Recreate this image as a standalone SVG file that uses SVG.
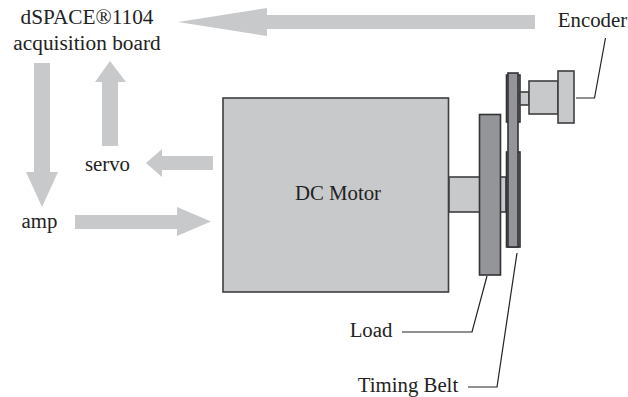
<svg xmlns="http://www.w3.org/2000/svg" width="628" height="397" viewBox="0 0 628 397">
<style>
text{font-family:"Liberation Serif","Times New Roman",serif;font-size:20.8px;fill:#222;text-anchor:middle}
.big{font-size:21.3px}
.arrow{fill:#c8c9cb}
.light{fill:#c8c9cb;stroke:#3f3f42;stroke-width:1.6}
.dark{fill:#939598;stroke:#333336;stroke-width:1.6}
.lead{fill:none;stroke:#222;stroke-width:1.2}
</style>
<rect width="628" height="397" fill="#fff"/>
<g id="connectors">
<polygon class="arrow" points="535,15 267,15 267,8 178,22 267,36 267,29 535,29"/>
<polygon class="arrow" points="34,63 50,63 50,172 58,172 42,207 26,172 34,172"/>
<polygon class="arrow" points="102,146 118,146 118,82 126,82 110,61 95,82 102,82"/>
<polygon class="arrow" points="213,156 213,170 162,170 162,177 146,163 162,149 162,156"/>
<polygon class="arrow" points="75,215 177,215 177,207 211,221.500 177,236 177,229 75,229"/>
<polyline class="lead" points="576,98 594.500,98 605.500,38"/>
<polyline class="lead" points="402,332 472,332 487,276"/>
<polyline class="lead" points="468,387 497,387 517,253"/>
</g>
<g id="dspace"><text class="big" x="87" y="23.500">dSPACE®1104</text><text class="big" x="87" y="50">acquisition board</text></g>
<g id="servo"><text x="107.500" y="171">servo</text></g>
<g id="amp"><text x="39.500" y="228">amp</text></g>
<g id="motor"><rect class="light" x="223" y="98" width="225.500" height="194"/><text x="338" y="200">DC Motor</text></g>
<g id="shaft"><rect class="light" x="449" y="177" width="57" height="35"/></g>
<g id="load-node"><rect class="dark" x="479.500" y="114.500" width="21" height="160.500"/><text x="371" y="337">Load</text></g>
<g id="pulleys">
<rect class="dark" x="506.500" y="75" width="13.500" height="47"/>
<rect class="dark" x="506.500" y="152" width="13.500" height="95"/>
<rect class="dark" x="508" y="73" width="10" height="174"/>
</g>
<g id="encoder">
<rect class="light" x="520" y="92" width="9" height="13"/>
<rect class="light" x="529" y="81" width="29" height="33"/>
<rect class="light" x="558" y="71" width="16" height="52"/>
<text x="592.500" y="27">Encoder</text>
</g>
<g id="belt-label"><text x="408" y="392">Timing Belt</text></g>
</svg>
